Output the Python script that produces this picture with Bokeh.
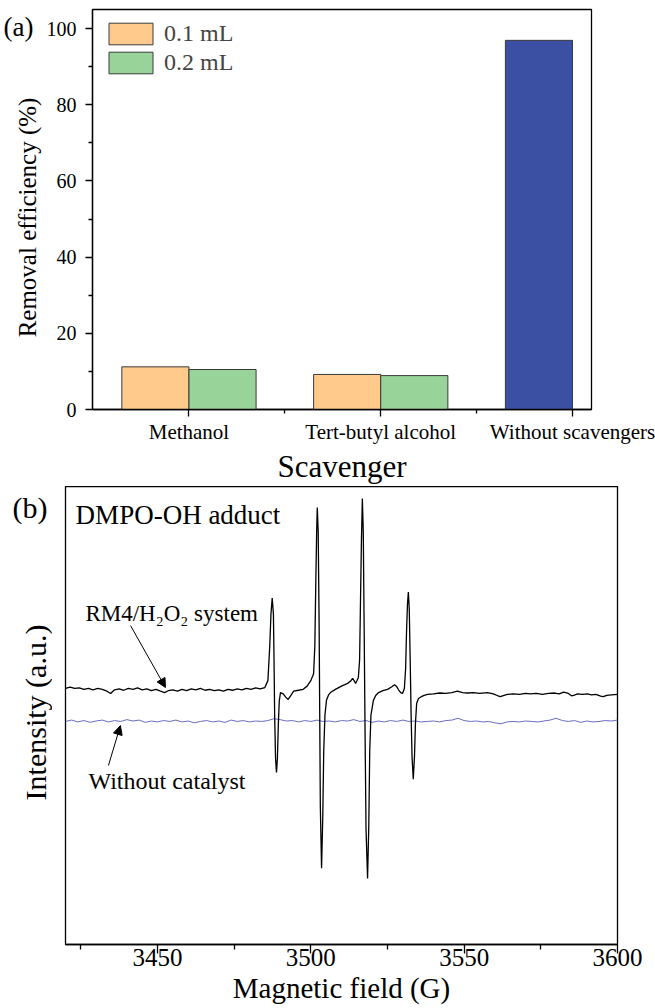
import math
from bokeh.plotting import figure
from bokeh.layouts import column, row
from bokeh.models import (ColumnDataSource, FixedTicker, Legend, LegendItem, Label,
                          Arrow, NormalHead, Range1d)
from bokeh.transform import dodge
from bokeh.embed import file_html
from bokeh.resources import INLINE

FONT = "Liberation Serif"

# ---------------- data: panel (a) ----------------
categories = ["Methanol", "Tert-butyl alcohol", "Without scavengers"]
cat_pos = [1, 2, 3]
eff_01ml = [11.2, 9.2]          # Methanol, Tert-butyl alcohol (0.1 mL)
eff_02ml = [10.5, 8.9]          # Methanol, Tert-butyl alcohol (0.2 mL)
eff_without = [96.9]            # Without scavengers
yticks_a = [0, 20, 40, 60, 80, 100]
yminor_a = [10, 30, 50, 70, 90]

# ---------------- data: panel (b) ----------------
field_rm4 = [3420.0, 3421.5, 3423.0, 3424.5, 3426.0, 3427.5, 3429.0, 3430.5, 3432.0, 3433.5,
             3434.7, 3436.0, 3437.5, 3439.0, 3440.5, 3442.0, 3443.5, 3445.0, 3446.5, 3448.0,
             3449.5, 3451.0, 3452.3, 3453.5, 3455.0, 3456.5, 3458.0, 3459.5, 3461.0, 3462.5,
             3464.0, 3465.5, 3467.0, 3468.5, 3470.0, 3471.5, 3473.0, 3474.5, 3476.0, 3477.5,
             3479.0, 3480.5, 3482.0, 3483.5, 3485.0, 3486.0, 3486.6, 3487.0, 3487.4, 3487.8,
             3488.0, 3488.2, 3488.5, 3488.8, 3489.1, 3489.4, 3489.7, 3490.1, 3491.0, 3491.8,
             3492.6, 3493.4, 3494.4, 3496.0, 3497.5, 3498.8, 3500.0, 3500.9, 3501.3, 3501.6,
             3501.9, 3502.1, 3502.4, 3502.7, 3502.9, 3503.1, 3503.5, 3503.9, 3504.2, 3504.6,
             3505.1, 3505.8, 3506.4, 3508.0, 3510.0, 3512.0, 3513.0, 3513.6, 3514.1, 3514.6,
             3515.1, 3515.5, 3515.9, 3516.2, 3516.5, 3516.8, 3517.1, 3517.4, 3517.7, 3518.0,
             3518.5, 3518.9, 3519.2, 3519.6, 3520.4, 3521.2, 3522.1, 3523.5, 3525.0, 3526.3,
             3527.3, 3528.0, 3528.6, 3529.3, 3529.9, 3530.5, 3530.9, 3531.2, 3531.5, 3531.8,
             3532.1, 3532.4, 3532.7, 3533.0, 3533.4, 3533.8, 3534.1, 3534.5, 3535.1, 3536.0,
             3537.0, 3538.0, 3540.0, 3542.0, 3544.0, 3546.0, 3547.8, 3549.5, 3551.0, 3553.0,
             3555.0, 3557.6, 3559.5, 3561.0, 3561.8, 3563.0, 3564.1, 3566.0, 3568.0, 3570.0,
             3571.6, 3573.5, 3575.5, 3577.5, 3579.5, 3581.0, 3582.4, 3584.0, 3585.0, 3585.7,
             3587.0, 3588.5, 3590.2, 3591.5, 3593.0, 3594.5, 3595.4, 3596.5, 3598.0, 3600.0]
int_rm4 = [55.8, 56.1, 55.8, 55.9, 55.6, 55.8, 55.5, 55.8, 55.6, 55.2,
           54.7, 55.5, 55.7, 55.4, 55.8, 55.6, 55.9, 55.5, 55.7, 55.3,
           55.6, 55.2, 54.9, 55.3, 55.5, 55.2, 55.6, 55.3, 55.7, 55.5,
           55.8, 55.4, 55.6, 55.3, 55.5, 55.2, 55.6, 55.4, 55.7, 55.5,
           55.8, 55.6, 55.9, 55.7, 56.0, 57.5, 65.0, 72.0, 75.5, 72.0,
           62.0, 50.0, 40.5, 37.5, 40.5, 48.0, 53.0, 54.9, 54.6, 53.9,
           53.4, 54.2, 55.2, 55.4, 55.6, 56.3, 57.5, 59.0, 65.0, 78.0,
           90.0, 95.2, 90.0, 70.0, 50.0, 30.0, 16.6, 28.0, 42.0, 50.0,
           53.2, 54.4, 54.9, 55.6, 56.3, 56.9, 57.4, 58.0, 57.5, 56.9,
           57.6, 58.2, 62.0, 75.0, 88.0, 97.2, 90.0, 68.0, 45.0, 25.0,
           14.4, 26.0, 42.0, 50.0, 53.2, 54.3, 54.9, 55.3, 55.6, 56.1,
           56.6, 56.2, 55.5, 54.9, 54.7, 55.8, 60.0, 68.0, 74.0, 76.8,
           73.0, 62.0, 50.0, 41.0, 36.0, 41.0, 48.0, 52.5, 53.6, 54.0,
           54.3, 54.5, 54.6, 54.8, 54.7, 54.9, 55.2, 54.9, 54.8, 54.9,
           54.7, 54.9, 54.6, 54.2, 54.0, 54.3, 54.5, 54.6, 54.5, 54.7,
           54.6, 54.7, 54.5, 54.7, 54.8, 54.6, 55.0, 54.7, 54.2, 54.3,
           54.6, 54.5, 54.6, 54.4, 54.5, 54.1, 54.0, 54.3, 54.4, 54.5]

field_blank = [3420, 3422, 3424, 3426, 3428, 3430, 3432, 3434, 3436, 3438,
               3440, 3442, 3444, 3446, 3448, 3450, 3452, 3454, 3456, 3458,
               3460, 3462, 3464, 3466, 3468, 3470, 3472, 3474, 3476, 3478,
               3480, 3482, 3484, 3486, 3488, 3490, 3492, 3494, 3496, 3498,
               3500, 3502, 3504, 3506, 3508, 3510, 3512, 3514, 3516, 3518,
               3520, 3522, 3524, 3526, 3528, 3530, 3532, 3534, 3536, 3538,
               3540, 3542, 3544, 3546, 3548, 3550, 3552, 3554, 3556, 3558,
               3560, 3562, 3564, 3566, 3568, 3570, 3572, 3574, 3576, 3578,
               3580, 3582, 3584, 3586, 3588, 3590, 3592, 3594, 3596, 3598, 3600]
int_blank = [48.6, 48.9, 48.5, 48.8, 48.4, 48.7, 48.9, 48.5, 48.8, 48.6,
             49.0, 48.7, 48.9, 48.4, 48.7, 48.5, 48.8, 48.6, 48.9, 48.5,
             48.7, 48.3, 48.6, 48.8, 48.5, 48.7, 48.4, 48.9, 48.6, 48.8,
             48.5, 48.7, 48.6, 48.8, 49.2, 49.0, 48.7, 48.8, 48.5, 48.8,
             48.6, 48.9, 48.6, 48.7, 48.5, 48.8, 48.7, 49.0, 48.6, 48.8,
             48.4, 48.7, 48.5, 48.8, 48.6, 48.9, 48.6, 48.7, 48.5, 48.6,
             48.7, 48.5, 48.8, 48.9, 49.3, 48.8, 48.6, 48.7, 48.5, 48.6,
             48.3, 48.1, 48.5, 48.6, 48.5, 48.7, 48.6, 48.5, 48.7, 48.9,
             49.3, 48.8, 48.6, 48.8, 48.4, 48.7, 48.5, 48.6, 48.8, 48.7, 48.9]
xticks_b = [3450, 3500, 3550, 3600]
xminor_b = [3425, 3475, 3525, 3575]

# ---------------- helpers ----------------
def text_strip(width, height):
    """A bare figure whose frame fills the canvas (pixel coordinates, y downwards)."""
    f = figure(width=width, height=height, x_range=Range1d(0, width), y_range=Range1d(height, 0),
               output_backend="svg", toolbar_location=None, frame_align=False,
               x_axis_location=None, y_axis_location=None,
               min_border_left=0, min_border_right=0, min_border_top=0, min_border_bottom=0)
    f.xgrid.visible = False
    f.ygrid.visible = False
    f.outline_line_color = None
    return f


def style_axis(ax, tick_out, minor_out):
    ax.axis_line_width = 1.3
    ax.major_tick_line_width = 1.3
    ax.minor_tick_line_width = 1.3
    ax.major_tick_in = 0
    ax.minor_tick_in = 0
    ax.major_tick_out = tick_out
    ax.minor_tick_out = minor_out
    ax.major_label_text_font = FONT
    ax.axis_label_text_font = FONT
    ax.axis_label_text_font_style = "normal"
    ax.major_label_text_color = "black"
    ax.axis_label_text_color = "black"


# ---------------- panel (a) ----------------
H1 = 486
BAR_W = 0.35
ORANGE, GREEN, BLUE, EDGE = "#FFCA8C", "#98D49A", "#3B50A3", "#3a3a3a"

lab1 = text_strip(42, H1)
lab1.add_layout(Label(x=3, y=26, text="(a)", text_baseline="middle",
                      text_font=FONT, text_font_size="27px", text_color="black"))
lab1.add_layout(Label(x=27, y=217, text="Removal efficiency (%)", angle=math.pi / 2,
                      text_align="center", text_baseline="middle",
                      text_font=FONT, text_font_size="25px", text_color="black"))

p1 = figure(width=613, height=H1, x_range=Range1d(0.497, 3.099), y_range=Range1d(0, 105.0),
            output_backend="svg", toolbar_location=None, frame_align=False,
            min_border_left=50, min_border_right=64, min_border_top=9, min_border_bottom=77)
p1.xgrid.visible = False
p1.ygrid.visible = False
p1.outline_line_color = "black"
p1.outline_line_width = 1.3

src_a = ColumnDataSource(dict(x=cat_pos[:2], v1=eff_01ml, v2=eff_02ml))
src_w = ColumnDataSource(dict(x=cat_pos[2:], v=eff_without))
r1 = p1.vbar(x=dodge("x", -BAR_W / 2, range=p1.x_range), top="v1", width=BAR_W, source=src_a,
             fill_color=ORANGE, line_color=EDGE, line_width=1)
r2 = p1.vbar(x=dodge("x", BAR_W / 2, range=p1.x_range), top="v2", width=BAR_W, source=src_a,
             fill_color=GREEN, line_color=EDGE, line_width=1)
p1.vbar(x=dodge("x", -BAR_W / 2, range=p1.x_range), top="v", width=BAR_W, source=src_w,
        fill_color=BLUE, line_color=EDGE, line_width=1)

xa = p1.xaxis[0]
xa.ticker = FixedTicker(ticks=cat_pos, minor_ticks=[1.5, 2.5])
xa.major_label_overrides = {c: n for c, n in zip(cat_pos, categories)}
xa.axis_label = "Scavenger"
ya = p1.yaxis[0]
ya.ticker = FixedTicker(ticks=yticks_a, minor_ticks=yminor_a)
style_axis(xa, 7, 4)
style_axis(ya, 7, 4)
xa.major_label_text_font_size = "21px"
xa.axis_label_text_font_size = "31px"
xa.major_label_standoff = 3
xa.axis_label_standoff = 2
ya.major_label_text_font_size = "20px"
ya.major_label_standoff = 9

legend = Legend(items=[LegendItem(label="0.1 mL", renderers=[r1]),
                       LegendItem(label="0.2 mL", renderers=[r2])],
                location=(11, 333), margin=0, padding=0, spacing=2,
                glyph_width=55, glyph_height=27, label_standoff=6,
                label_text_font=FONT, label_text_font_size="24px",
                border_line_alpha=0, background_fill_alpha=0)
p1.add_layout(legend)

# ---------------- panel (b) ----------------
H2 = 522
lab2 = text_strip(52, H2)
lab2.add_layout(Label(x=12, y=21, text="(b)", text_baseline="middle",
                      text_font=FONT, text_font_size="30px", text_color="black"))
lab2.add_layout(Label(x=35, y=226, text="Intensity (a.u.)", angle=math.pi / 2,
                      text_align="center", text_baseline="middle",
                      text_font=FONT, text_font_size="30px", text_color="black"))

p2 = figure(width=603, height=H2, x_range=Range1d(3420, 3600), y_range=Range1d(0, 99.8),
            output_backend="svg", toolbar_location=None, frame_align=False,
            y_axis_location=None,
            min_border_left=13, min_border_right=38, min_border_top=0, min_border_bottom=64)
p2.xgrid.visible = False
p2.ygrid.visible = False
p2.outline_line_color = "black"
p2.outline_line_width = 1.3

p2.line(field_blank, int_blank, line_color="#6b6bc6", line_width=1)
p2.line(field_rm4, int_rm4, line_color="black", line_width=1.3)

xb = p2.xaxis[0]
xb.ticker = FixedTicker(ticks=xticks_b, minor_ticks=xminor_b)
xb.axis_label = "Magnetic field (G)"
style_axis(xb, 9, 5)
xb.major_label_text_font_size = "25px"
xb.axis_label_text_font_size = "29px"
xb.major_label_standoff = -5
xb.axis_label_standoff = 3

p2.add_layout(Label(x=3423.3, y=93.5, text="DMPO-OH adduct", text_baseline="middle",
                    text_font=FONT, text_font_size="27px", text_color="black"))
p2.add_layout(Label(x=3426.5, y=72.1, text="RM4/H\u2082O\u2082 system", text_baseline="middle",
                    text_font=FONT, text_font_size="23px", text_color="black"))
p2.add_layout(Label(x=3427.5, y=35.7, text="Without catalyst", text_baseline="middle",
                    text_font=FONT, text_font_size="24px", text_color="black"))
p2.add_layout(Arrow(end=NormalHead(size=9, fill_color="black", line_color="black", line_width=1),
                    x_start=3441.2, y_start=69.5, x_end=3452.6, y_end=56.0,
                    line_color="black", line_width=1))
p2.add_layout(Arrow(end=NormalHead(size=9, fill_color="black", line_color="black", line_width=1),
                    x_start=3434.0, y_start=39.0, x_end=3437.9, y_end=47.7,
                    line_color="black", line_width=1))

layout = column(row(lab1, p1, spacing=0), row(lab2, p2, spacing=0), spacing=0)
open("out.html", "w").write(file_html(layout, INLINE))
